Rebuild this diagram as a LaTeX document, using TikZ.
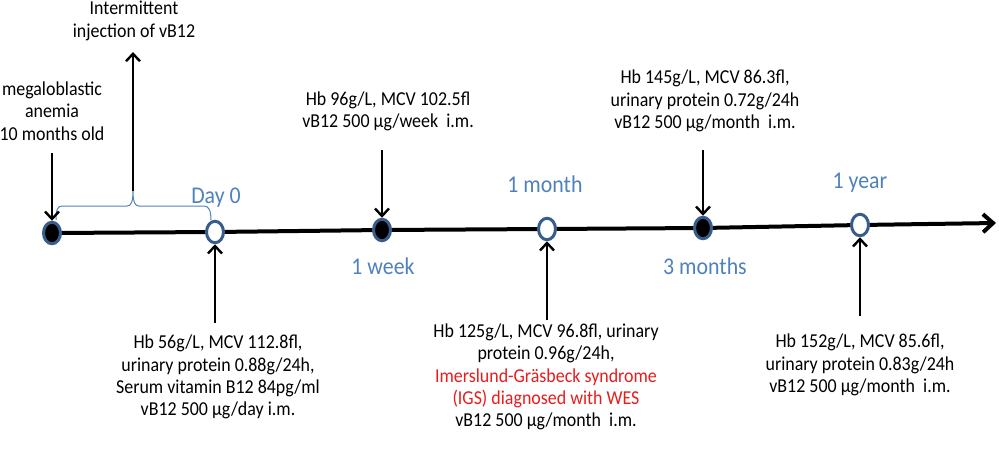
\documentclass[tikz,border=0pt]{standalone}
\usepackage{fontspec}
\setmainfont{Carlito}[FakeStretch=0.91]
\usetikzlibrary{arrows.meta,shapes.geometric}
\definecolor{nodeblue}{RGB}{56,93,138}
\definecolor{lblblue}{RGB}{79,129,189}
\definecolor{redtxt}{RGB}{232,28,28}
\begin{document}
\begin{tikzpicture}[x=1pt,y=-1pt,
  ev/.style={ellipse, draw=nodeblue, line width=3pt, minimum width=17pt, minimum height=21.5pt, inner sep=0pt},
  evf/.style={ev, fill=black},
  evo/.style={ev, fill=white},
  arr/.style={line width=2.4pt, -{Straight Barb[length=7.5pt,width=14pt]}},
  timeline/.style={line width=4pt, -{Straight Barb[length=10pt,width=18pt]}},
  txt/.style={font=\fontsize{19.7}{22.3}\selectfont, align=center, inner sep=0pt},
  lbl/.style={font=\fontsize{24}{28}\selectfont, text=lblblue, inner sep=0pt, anchor=base},
  brace/.style={draw=lblblue, line width=1pt}]
\useasboundingbox (0,0) rectangle (999,448);
% timeline points
\coordinate (p1) at (52,233);
\coordinate (p2) at (215,232);
\coordinate (p3) at (382,230);
\coordinate (p4) at (547,229);
\coordinate (p5) at (703,228);
\coordinate (p6) at (860,225);
\coordinate (pend) at (996,223);
\draw[timeline] (p1) -- (p2) -- (p3) -- (p4) -- (p5) -- (p6) -- (pend);
% events
\node[evf] (n1) at (p1) {};
\node[evo] (n2) at (p2) {};
\node[evf] (n3) at (p3) {};
\node[evo] (n4) at (p4) {};
\node[evf] (n5) at (p5) {};
\node[evo] (n6) at (p6) {};
% brace
\coordinate (bt) at (133,191);
\draw[brace] (56,220) .. controls (56,211) and (57,206) .. (62,206) -- (127,206)
  .. controls (131,206) and (133,202) .. (bt)
  .. controls (133,202) and (135,206) .. (139,206) -- (204,206)
  .. controls (209,206) and (211,211) .. (211,220);
% labels on timeline
\node[lbl] (l2) at (216,203) {Day 0};
\node[lbl] (l3) at (383,274) {1 week};
\node[lbl] (l4) at (545,192) {1 month};
\node[lbl] (l5) at (705,274) {3 months};
\node[lbl] (l6) at (860,188) {1 year};
% text blocks
\node[txt] (t1) at (52,111) {megaloblastic\\anemia\\10 months old};
\node[txt] (t0) at (134,21) {Intermittent\\injection of vB12};
\node[txt] (t3) at (388,111) {Hb 96g/L, MCV 102.5fl\\vB12 500 µg/week\ \ i.m.};
\node[txt] (t5) at (705,101) {Hb 145g/L, MCV 86.3fl,\\urinary protein 0.72g/24h\\vB12 500 µg/month\ \ i.m.};
\node[txt] (t2) at (218,377) {Hb 56g/L, MCV 112.8fl,\\urinary protein 0.88g/24h,\\Serum vitamin B12 84pg/ml\\vB12 500 µg/day i.m.};
\node[txt] (t4) at (546,377) {Hb 125g/L, MCV 96.8fl, urinary\\protein 0.96g/24h,\\\textcolor{redtxt}{Imerslund-Gräsbeck syndrome}\\\textcolor{redtxt}{(IGS) diagnosed with WES}\\vB12 500 µg/month\ \ i.m.};
\node[txt] (t6) at (860,365) {Hb 152g/L, MCV 85.6fl,\\urinary protein 0.83g/24h\\vB12 500 µg/month\ \ i.m.};
% arrow start points
\coordinate (a1) at (52,153);
\coordinate (a0) at (133,52);
\coordinate (a3) at (382,150);
\coordinate (a5) at (703,150);
\coordinate (a2) at (215,323);
\coordinate (a4) at (547,320);
\coordinate (a6) at (860,316);
% arrows
\draw[arr] (a1) -- (n1);
\draw[arr] (bt) -- (a0);
\draw[arr] (a3) -- (n3);
\draw[arr] (a5) -- (n5);
\draw[arr] (a2) -- (n2);
\draw[arr] (a4) -- (n4);
\draw[arr] (a6) -- (n6);
\end{tikzpicture}
\end{document}
